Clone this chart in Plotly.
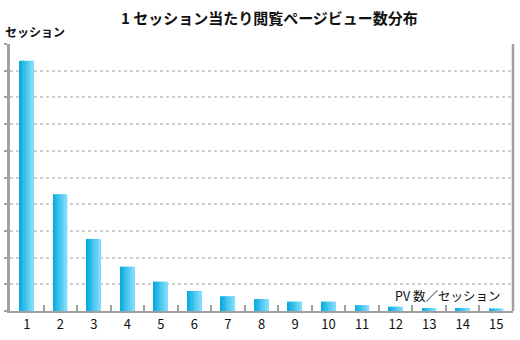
import plotly.graph_objects as go

# Pages viewed per session (x) and relative session counts (y)
categories = [str(i) for i in range(1, 16)]
sessions = [9.37, 4.37, 2.70, 1.66, 1.10, 0.75, 0.55, 0.45, 0.35, 0.35,
            0.22, 0.16, 0.11, 0.11, 0.09]

title_text = "1 セッション当たり閲覧ページビュー数分布"
y_title = "セッション"
x_title = "PV 数／セッション"

FONT = "Noto Sans CJK JP, Noto Sans, sans-serif"

# Horizontal gradient for each bar, built from thin side-by-side slices
left_rgb = (10, 172, 224)
right_rgb = (128, 220, 250)
n_slices = 10
bar_width = 0.42
slice_w = bar_width / n_slices

fig = go.Figure()
for i in range(n_slices):
    t = i / (n_slices - 1)
    rgb = tuple(round(a + (b - a) * t) for a, b in zip(left_rgb, right_rgb))
    fig.add_trace(go.Bar(
        x=categories,
        y=sessions,
        width=slice_w * 1.05,
        offset=-bar_width / 2 + i * slice_w,
        marker=dict(color="rgb(%d,%d,%d)" % rgb, line=dict(width=0)),
        showlegend=False,
        hoverinfo="x+y",
    ))

fig.update_layout(
    width=520,
    height=340,
    margin=dict(l=7, r=7, t=44, b=27),
    paper_bgcolor="white",
    plot_bgcolor="white",
    barmode="overlay",
    font=dict(family=FONT, size=12, color="#111111"),
    title=dict(
        text=title_text,
        x=0.518,
        xanchor="center",
        y=1 - 19 / 340,
        yanchor="middle",
        font=dict(size=15, family=FONT, color="#111111", weight="bold"),
    ),
    xaxis=dict(
        type="category",
        showline=True,
        linecolor="#a0a0a0",
        linewidth=2,
        ticks="inside",
        tickson="boundaries",
        ticklen=6,
        tickcolor="#a0a0a0",
        tickwidth=1.5,
        showgrid=False,
        tickfont=dict(size=13, family=FONT, color="#111111"),
        fixedrange=True,
    ),
    yaxis=dict(
        range=[0, 10],
        dtick=1,
        showticklabels=False,
        showline=True,
        linecolor="#a0a0a0",
        linewidth=2.5,
        ticks="outside",
        ticklen=3,
        tickcolor="#a0a0a0",
        tickwidth=1.5,
        showgrid=True,
        gridcolor="#cfcfcf",
        gridwidth=1.5,
        griddash="dot",
        zeroline=False,
        fixedrange=True,
    ),
    annotations=[
        dict(text=y_title, xref="paper", yref="paper", x=-0.014, y=1.045,
             xanchor="left", yanchor="middle", showarrow=False,
             font=dict(size=12, family=FONT, color="#111111", weight="bold")),
        dict(text=x_title, xref="paper", yref="paper", x=0.978, y=0.015,
             xanchor="right", yanchor="bottom", showarrow=False,
             font=dict(size=12.5, family=FONT, color="#111111")),
    ],
    shapes=[
        dict(type="line", xref="paper", yref="paper", x0=1, x1=1, y0=0, y1=1,
             line=dict(color="#a0a0a0", width=2.5)),
    ],
)

fig.write_html("out.html")
